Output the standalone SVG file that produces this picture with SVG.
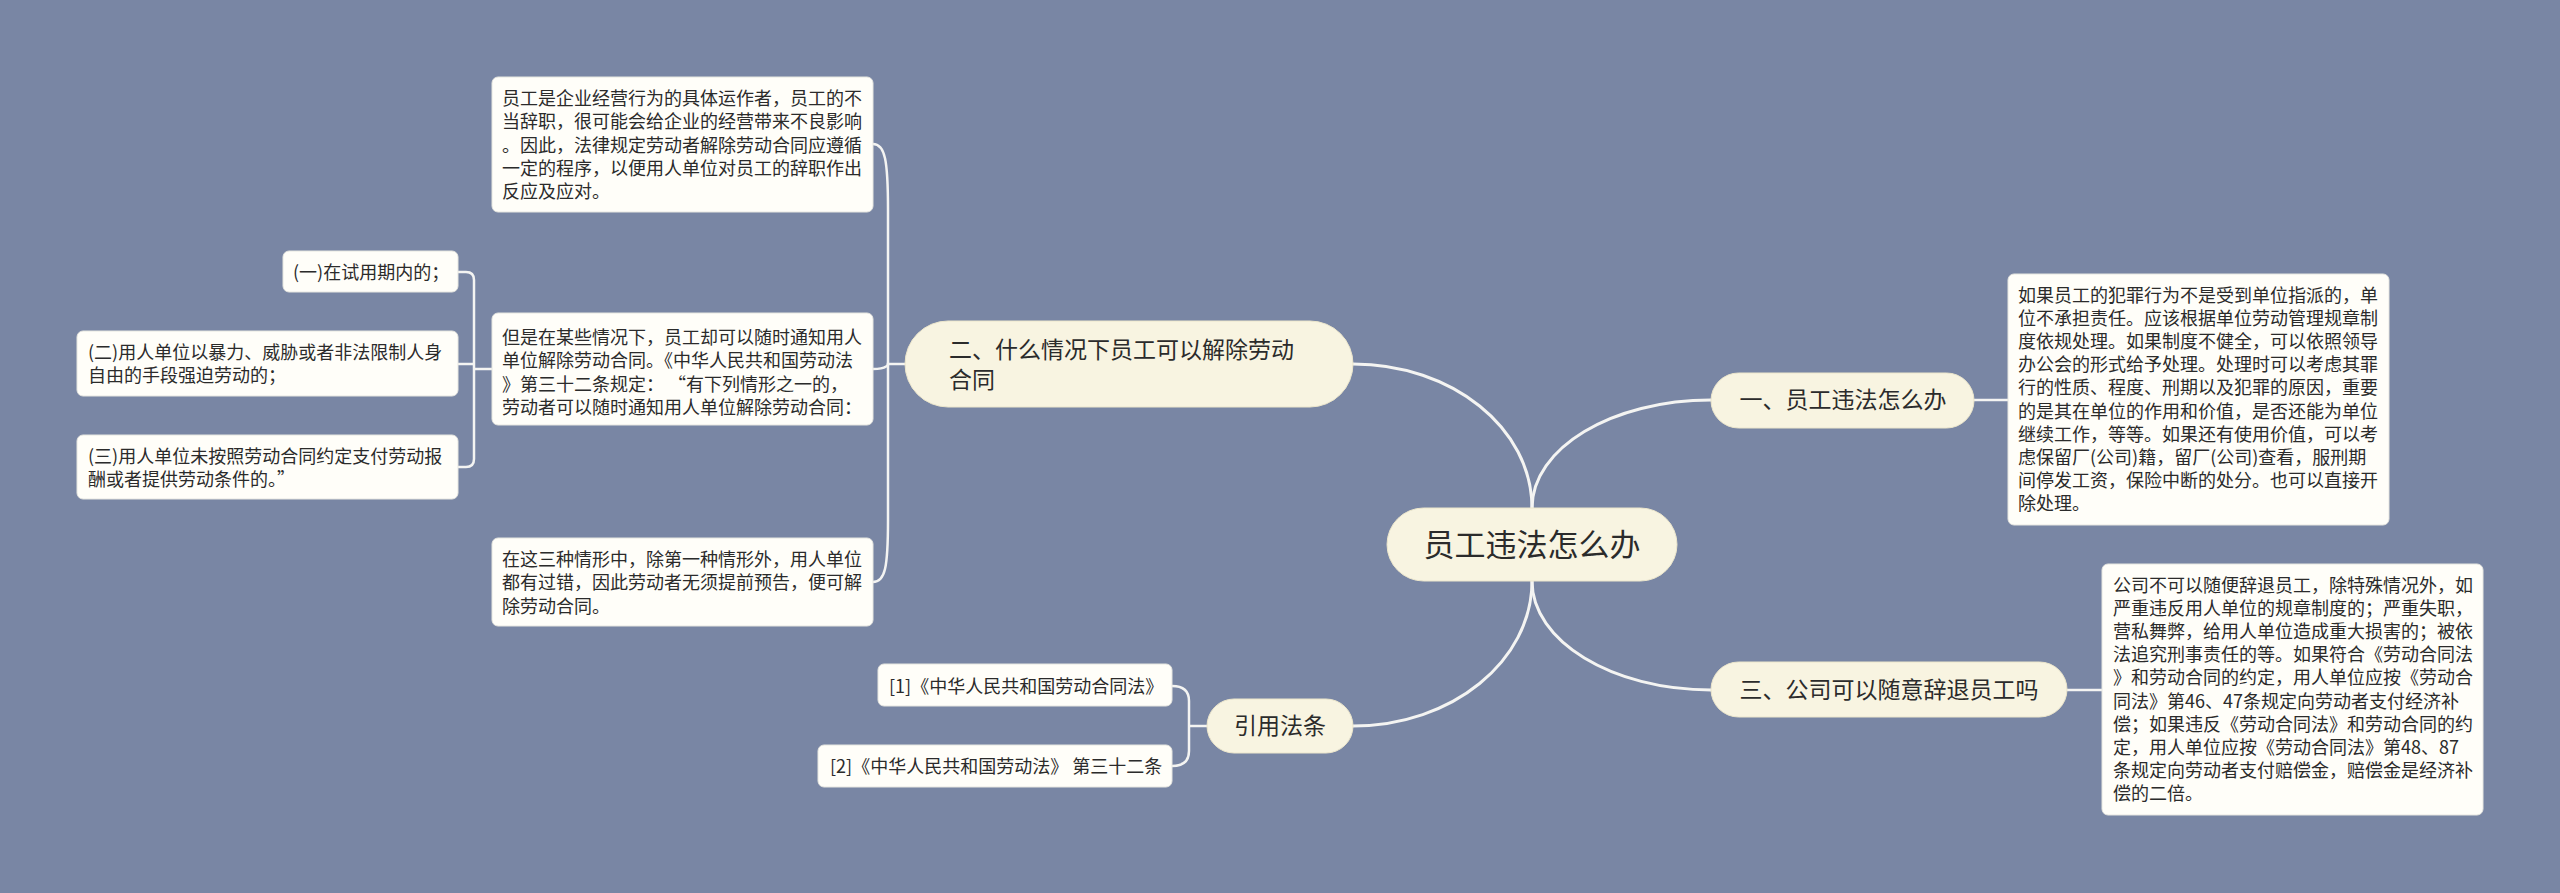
<svg xmlns="http://www.w3.org/2000/svg" width="2560" height="893" viewBox="0 0 2560 893">
<style>
.bg{fill:#7986a4}
.topic{fill:#f8f4e1;stroke:#ece6cc;stroke-width:1}
.box{fill:#fffef9;stroke:#e6e6e0;stroke-width:1}
.t{font-family:"Noto Sans CJK SC","Noto Sans",sans-serif;fill:#2b2b2b}
.s{font-size:18px}
.m{font-size:23px}
.l{font-size:31px}
.c{text-anchor:middle}
.edge{fill:none;stroke:#f4f4f2;stroke-width:3;stroke-linecap:round}
.br{fill:none;stroke:#f4f4f2;stroke-width:2.5;stroke-linecap:round}
</style>
<rect class="bg" x="0" y="0" width="2560" height="893"/>
<g id="connectors">
<path class="edge" d="M1532 508 C1532 448 1612 400 1711 400"/>
<path class="edge" d="M1532 508 C1532 428 1452 364 1353 364"/>
<path class="edge" d="M1532 581 C1532 641 1612 690 1711 690"/>
<path class="edge" d="M1532 581 C1532 661 1452 726 1353 726"/>
<path class="br" d="M1974 400 L2008 400"/>
<path class="br" d="M2067 690 L2102 690"/>
<path class="br" d="M1207 726 L1189 726 M1189 726 L1189 701 Q1189 686 1172 686 M1189 726 L1189 751 Q1189 766 1172 766"/>
<path class="br" d="M905 364 L888 364 C888 364 888 369 873 369"/>
<path class="br" d="M888 364 L888 210 C888 160 885 144 873 144"/>
<path class="br" d="M888 364 L888 520 C888 568 885 582 873 582"/>
<path class="br" d="M492 369 L474 369 M474 369 L474 280 Q474 272 466 272 L458 272 M474 364 L458 364 M474 369 L474 459 Q474 467 466 467 L458 467"/>
</g>
<g id="root">
<rect class="topic" x="1387" y="508" width="290" height="73" rx="36.5"/>
<text class="t l c" x="1532" y="556">员工违法怎么办</text>
</g>
<g id="n1">
<rect class="topic" x="1711" y="373" width="263" height="55" rx="27.5"/>
<text class="t m c" x="1843" y="408">一、员工违法怎么办</text>
</g>
<g id="n1a">
<rect class="box" x="2008" y="274" width="381" height="251" rx="6"/>
<text class="t s" x="2018" y="302">如果员工的犯罪行为不是受到单位指派的，单<tspan x="2018" dy="23.1">位不承担责任。应该根据单位劳动管理规章制</tspan><tspan x="2018" dy="23.1">度依规处理。如果制度不健全，可以依照领导</tspan><tspan x="2018" dy="23.1">办公会的形式给予处理。处理时可以考虑其罪</tspan><tspan x="2018" dy="23.1">行的性质、程度、刑期以及犯罪的原因，重要</tspan><tspan x="2018" dy="23.1">的是其在单位的作用和价值，是否还能为单位</tspan><tspan x="2018" dy="23.1">继续工作，等等。如果还有使用价值，可以考</tspan><tspan x="2018" dy="23.1">虑保留厂(公司)籍，留厂(公司)查看，服刑期</tspan><tspan x="2018" dy="23.1">间停发工资，保险中断的处分。也可以直接开</tspan><tspan x="2018" dy="23.1">除处理。</tspan></text>
</g>
<g id="n3">
<rect class="topic" x="1711" y="662" width="356" height="55" rx="27.5"/>
<text class="t m c" x="1889" y="698">三、公司可以随意辞退员工吗</text>
</g>
<g id="n3a">
<rect class="box" x="2102" y="564" width="381" height="251" rx="6"/>
<text class="t s" x="2113" y="592">公司不可以随便辞退员工，除特殊情况外，如<tspan x="2113" dy="23.1">严重违反用人单位的规章制度的；严重失职，</tspan><tspan x="2113" dy="23.1">营私舞弊，给用人单位造成重大损害的；被依</tspan><tspan x="2113" dy="23.1">法追究刑事责任的等。如果符合《劳动合同法</tspan><tspan x="2113" dy="23.1">》和劳动合同的约定，用人单位应按《劳动合</tspan><tspan x="2113" dy="23.1">同法》第46、47条规定向劳动者支付经济补</tspan><tspan x="2113" dy="23.1">偿；如果违反《劳动合同法》和劳动合同的约</tspan><tspan x="2113" dy="23.1">定，用人单位应按《劳动合同法》第48、87</tspan><tspan x="2113" dy="23.1">条规定向劳动者支付赔偿金，赔偿金是经济补</tspan><tspan x="2113" dy="23.1">偿的二倍。</tspan></text>
</g>
<g id="n2">
<rect class="topic" x="905" y="321" width="448" height="86" rx="43"/>
<text class="t m" x="949" y="358">二、什么情况下员工可以解除劳动<tspan x="949" dy="30">合同</tspan></text>
</g>
<g id="n2a">
<rect class="box" x="492" y="77" width="381" height="135" rx="6"/>
<text class="t s" x="502" y="105">员工是企业经营行为的具体运作者，员工的不<tspan x="502" dy="23.3">当辞职，很可能会给企业的经营带来不良影响</tspan><tspan x="502" dy="23.3">。因此，法律规定劳动者解除劳动合同应遵循</tspan><tspan x="502" dy="23.3">一定的程序，以便用人单位对员工的辞职作出</tspan><tspan x="502" dy="23.3">反应及应对。</tspan></text>
</g>
<g id="n2b">
<rect class="box" x="492" y="313" width="381" height="112" rx="6"/>
<text class="t s" x="502" y="344">但是在某些情况下，员工却可以随时通知用人<tspan x="502" dy="23.3">单位解除劳动合同。《中华人民共和国劳动法</tspan><tspan x="502" dy="23.3">》第三十二条规定： “有下列情形之一的，</tspan><tspan x="502" dy="23.3">劳动者可以随时通知用人单位解除劳动合同：</tspan></text>
</g>
<g id="n2c">
<rect class="box" x="492" y="538" width="381" height="88" rx="6"/>
<text class="t s" x="502" y="566">在这三种情形中，除第一种情形外，用人单位<tspan x="502" dy="23.3">都有过错，因此劳动者无须提前预告，便可解</tspan><tspan x="502" dy="23.3">除劳动合同。</tspan></text>
</g>
<g id="n2b1">
<rect class="box" x="283" y="251" width="175" height="41" rx="6"/>
<text class="t s" x="293" y="279">(一)在试用期内的；</text>
</g>
<g id="n2b2">
<rect class="box" x="77" y="331" width="381" height="65" rx="6"/>
<text class="t s" x="88" y="359">(二)用人单位以暴力、威胁或者非法限制人身<tspan x="88" dy="23">自由的手段强迫劳动的；</tspan></text>
</g>
<g id="n2b3">
<rect class="box" x="77" y="435" width="381" height="64" rx="6"/>
<text class="t s" x="88" y="463">(三)用人单位未按照劳动合同约定支付劳动报<tspan x="88" dy="23">酬或者提供劳动条件的。”</tspan></text>
</g>
<g id="n4">
<rect class="topic" x="1207" y="699" width="146" height="54" rx="27"/>
<text class="t m c" x="1280" y="734">引用法条</text>
</g>
<g id="n4a">
<rect class="box" x="878" y="664" width="294" height="42" rx="6"/>
<text class="t s" x="889" y="693">[1]《中华人民共和国劳动合同法》</text>
</g>
<g id="n4b">
<rect class="box" x="818" y="745" width="354" height="42" rx="6"/>
<text class="t s" x="830" y="773">[2]《中华人民共和国劳动法》 第三十二条</text>
</g>
</svg>
